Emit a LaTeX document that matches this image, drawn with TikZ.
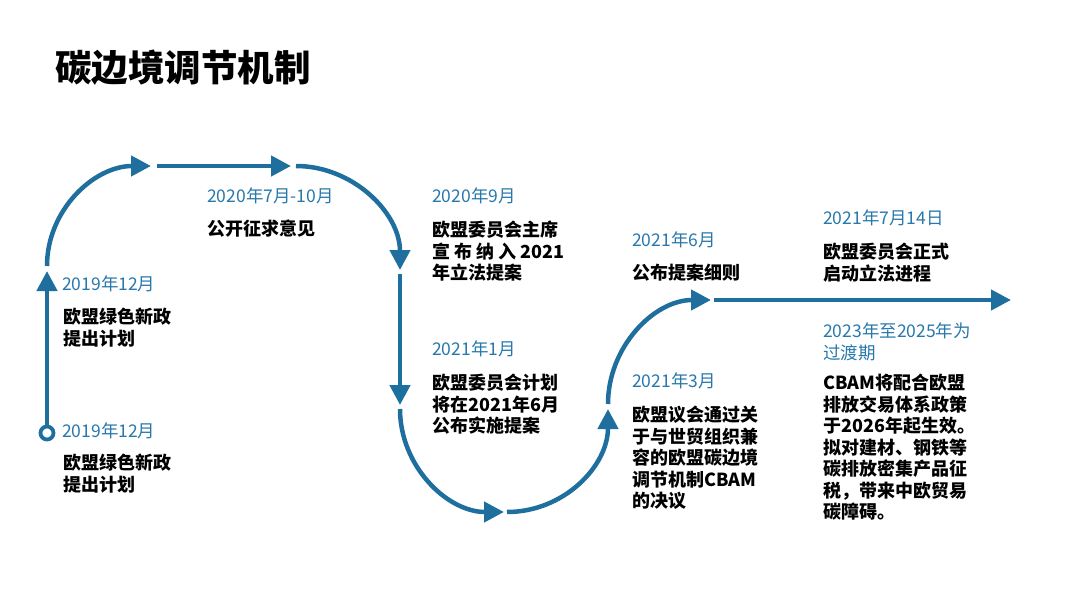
\documentclass[tikz,border=0pt]{standalone}
\usepackage{fontspec}
\setmainfont{Noto Sans CJK SC}
\usepackage{tikz}
\usetikzlibrary{arrows.meta}
\definecolor{cbamblue}{RGB}{30,110,158}
\definecolor{dateblue}{RGB}{40,120,172}
\tikzstyle{flow} = [draw=cbamblue, line width=4.5pt,
    -{Triangle[length=20pt,width=20pt]}]
\tikzstyle{startdot} = [circle, draw=cbamblue, line width=3.8pt, fill=white,
    minimum size=13pt, inner sep=0pt]
\tikzstyle{datelbl} = [anchor=north west, inner sep=0pt, align=left,
    text=dateblue, font=\fontsize{17.5}{21.5}\selectfont]
\tikzstyle{eventtxt} = [anchor=north west, inner sep=0pt, align=left,
    font=\fontsize{18}{21.5}\selectfont\bfseries]

\begin{document}
\begin{tikzpicture}[x=1pt, y=-1pt]
    \useasboundingbox (0,0) rectangle (1080,607);
    \node[anchor=west, inner sep=0pt, font=\fontsize{36.5}{40}\selectfont\bfseries]
      (title) at (55,68) {碳边境调节机制};

    % route points
    \node[startdot] (start) at (47,433) {};
    \coordinate (p1) at (47,271);
    \coordinate (p2) at (47,266);
    \coordinate (p3) at (151,166);
    \coordinate (p4) at (157,166);
    \coordinate (p5) at (291,166);
    \coordinate (p6) at (296,166);
    \coordinate (p7) at (400,270);
    \coordinate (p8) at (400,274);
    \coordinate (p9) at (400,405);
    \coordinate (p10) at (400,409);
    \coordinate (p11) at (504,512);
    \coordinate (p12) at (507,512);
    \coordinate (p13) at (608,409);
    \coordinate (p14) at (608,404);
    \coordinate (p15) at (711,300);
    \coordinate (p16) at (714,300);
    \coordinate (p17) at (1011,300);

    \draw[flow] (start) -- (p1);
    \draw[flow] (p2) .. controls +(0,-56) and +(-57,0) .. (p3);
    \draw[flow] (p4) -- (p5);
    \draw[flow] (p6) .. controls +(57,0) and +(0,-57) .. (p7);
    \draw[flow] (p8) -- (p9);
    \draw[flow] (p10) .. controls +(0,57) and +(-57,0) .. (p11);
    \draw[flow] (p12) .. controls +(57,0) and +(0,57) .. (p13);
    \draw[flow] (p14) .. controls +(0,-57) and +(-57,0) .. (p15);
    \draw[flow] (p16) -- (p17);

    % dates
    \node[datelbl] (d1) at (62,423) {2019年12月};
    \node[datelbl] (d2) at (62,276) {2019年12月};
    \node[datelbl] (d3) at (207,188) {2020年7月-10月};
    \node[datelbl] (d4) at (432,188) {2020年9月};
    \node[datelbl] (d5) at (432,341) {2021年1月};
    \node[datelbl] (d6) at (632,373) {2021年3月};
    \node[datelbl] (d7) at (632,232) {2021年6月};
    \node[datelbl] (d8) at (823,210) {2021年7月14日};
    \node[datelbl] (d9) at (823,323) {2023年至2025年为\\过渡期};

    % events
    \node[eventtxt] (e1) at (63,454) {欧盟绿色新政\\提出计划};
    \node[eventtxt] (e2) at (63,308) {欧盟绿色新政\\提出计划};
    \node[eventtxt] (e3) at (207,220) {公开征求意见};
    \node[eventtxt] (e4) at (432,221) {欧盟委员会主席\\宣 布 纳 入 2021\\年立法提案};
    \node[eventtxt] (e5) at (432,374) {欧盟委员会计划\\将在2021年6月\\公布实施提案};
    \node[eventtxt] (e6) at (632,406) {欧盟议会通过关\\于与世贸组织兼\\容的欧盟碳边境\\调节机制CBAM\\的决议};
    \node[eventtxt] (e7) at (632,264) {公布提案细则};
    \node[eventtxt] (e8) at (823,243) {欧盟委员会正式\\启动立法进程};
    \node[eventtxt] (e9) at (823,374) {CBAM将配合欧盟\\排放交易体系政策\\于2026年起生效。\\拟对建材、钢铁等\\碳排放密集产品征\\税，带来中欧贸易\\碳障碍。};
\end{tikzpicture}
\end{document}
